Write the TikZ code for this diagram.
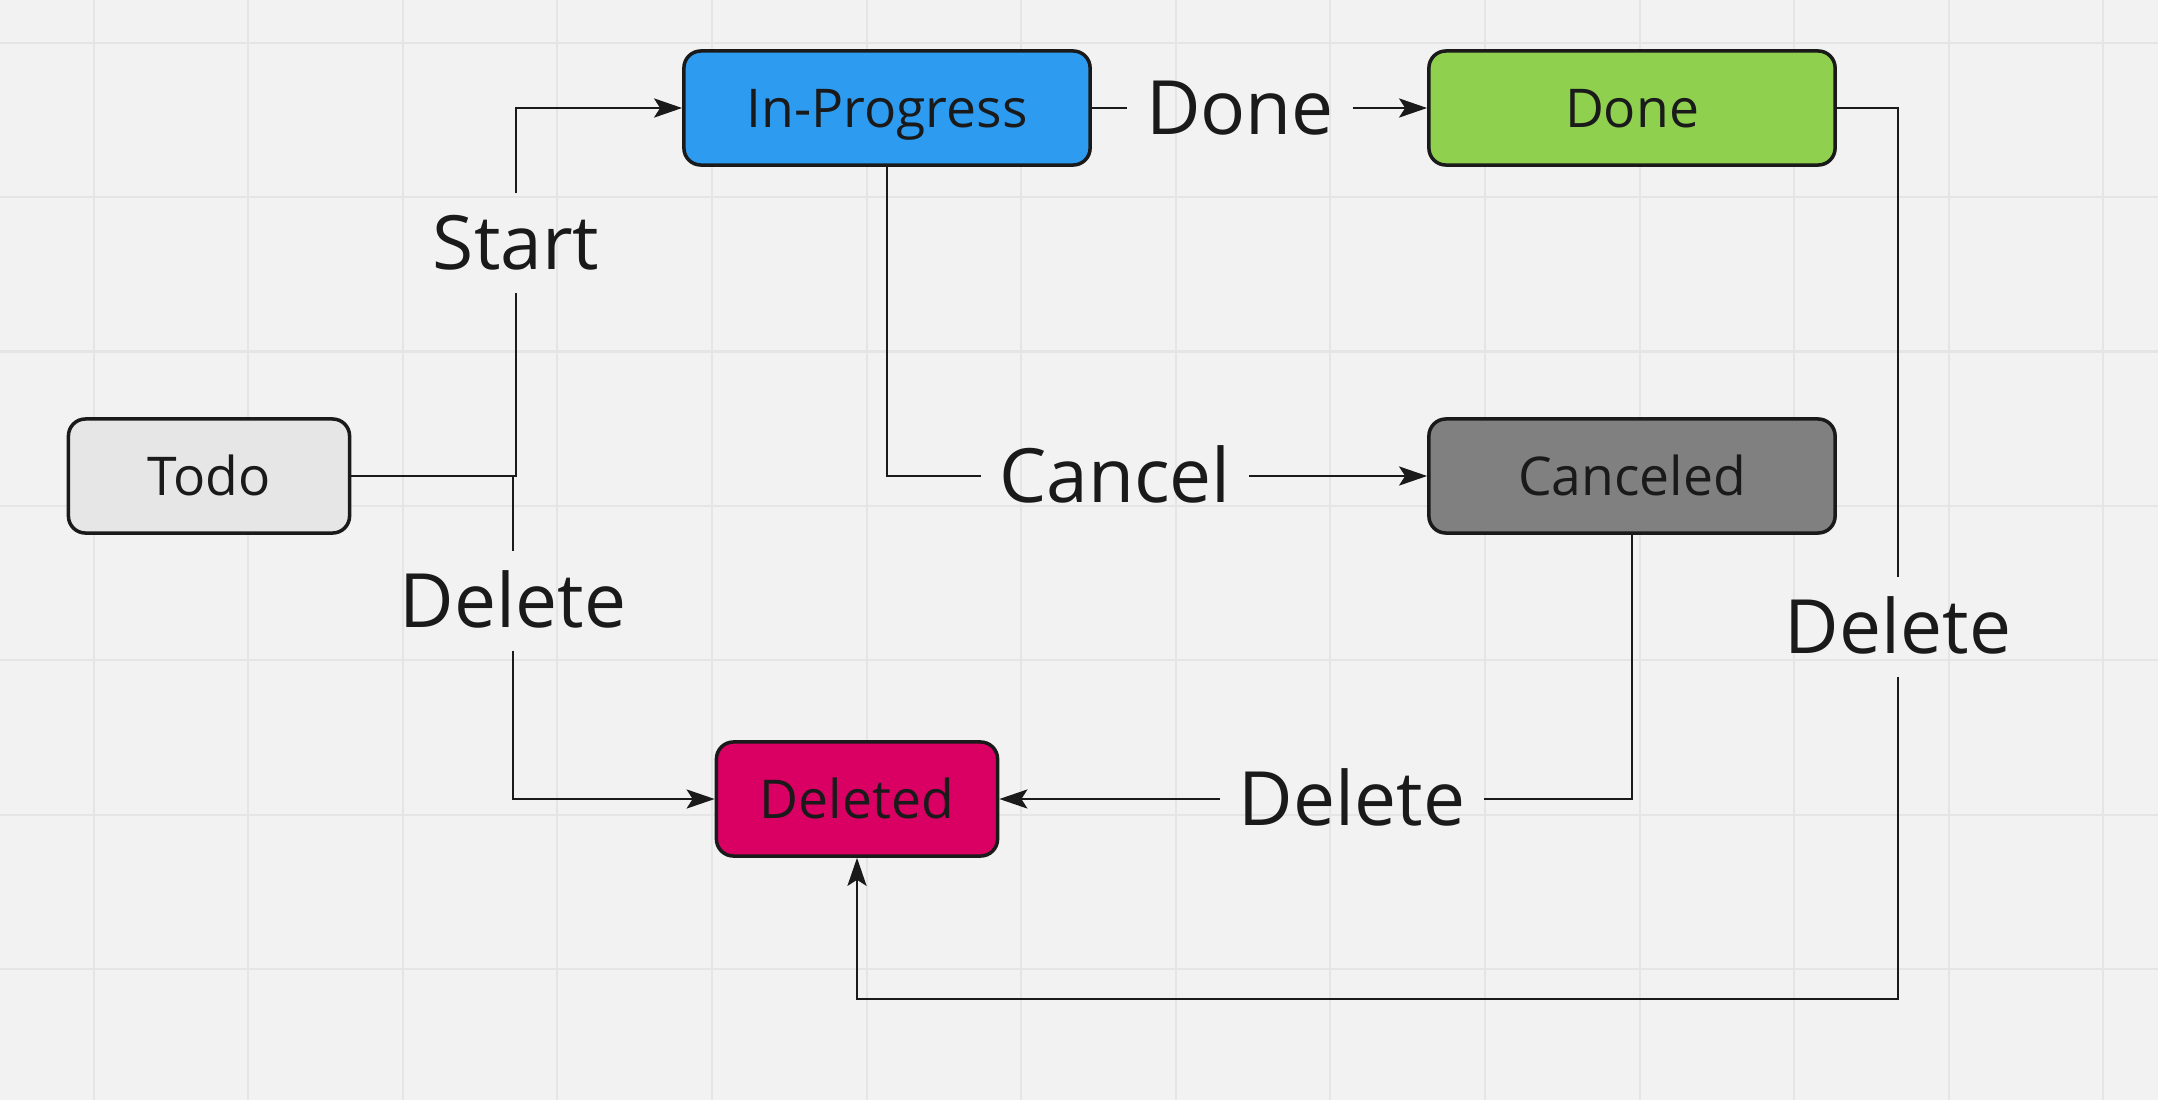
\documentclass[tikz,border=0pt]{standalone}
\usepackage{fontspec}
\setmainfont{Open Sans}
\usetikzlibrary{arrows.meta}

\definecolor{bg}{HTML}{F2F2F2}
\definecolor{gridline}{HTML}{E5E5E5}
\definecolor{ink}{HTML}{1A1A1A}
\definecolor{todofill}{HTML}{E6E6E6}
\definecolor{progfill}{HTML}{2D9BF0}
\definecolor{donefill}{HTML}{8FD14F}
\definecolor{cancelfill}{HTML}{808080}
\definecolor{delfill}{HTML}{DA0063}

\begin{document}
\begin{tikzpicture}[x=0.01cm, y=-0.01cm,
	state/.style = {rectangle, rounded corners=0.17cm, draw=ink, line width=1pt,
		minimum height=1.14cm, text=ink, text height=10.9pt, text depth=0pt,
		font=\fontsize{15.2}{18}\selectfont},
	link/.style = {draw=ink, line width=0.8pt},
	trans/.style = {link, -{Stealth[length=2.8mm, width=1.9mm, inset=0.6mm]}},
	lbl/.style = {text=ink, inner xsep=1.8mm, inner ysep=2.2mm,
		text height=15.3pt, text depth=0pt,
		font=\fontsize{21.3}{26}\selectfont}]

\fill[bg] (0,0) rectangle (2158,1100);
\useasboundingbox (0,0) rectangle (2158,1100);
\foreach \gx in {0,...,13}
	\draw[gridline, line width=0.6pt] (93.6+154.6*\gx,0) -- (93.6+154.6*\gx,1100);
\foreach \gy in {0,...,6}
	\draw[gridline, line width=0.6pt] (0,42.7+154.4*\gy) -- (2158,42.7+154.4*\gy);

\node[state, fill=todofill,
	minimum width = 2.81cm] (todo) at (209,476) {Todo};
\node[state, fill=progfill,
	minimum width = 4.06cm] (prog) at (887,108) {In-Progress};
\node[state, fill=donefill,
	minimum width = 4.06cm] (done) at (1632,108) {Done};
\node[state, fill=cancelfill,
	minimum width = 4.06cm] (canceled) at (1632,476) {Canceled};
\node[state, fill=delfill,
	minimum width = 2.81cm] (deleted) at (857,799) {Deleted};

\node[lbl] (start) at (516,243) {Start};
\node[lbl] (deltodo) at (513,601) {Delete};
\node[lbl] (finish) at (1240,108) {Done};
\node[lbl] (cancel) at (1115,476) {Cancel};
\node[lbl] (delcanc) at (1352,799) {Delete};
\node[lbl] (deldone) at (1898,627) {Delete};
\coordinate (bottom) at (857,999);

\draw[link] (todo.east) -| (start.south);
\draw[trans] (start.north) |- (prog.west);
\draw[link] (todo.east) -| (deltodo.north);
\draw[trans] (deltodo.south) |- (deleted.west);
\draw[link] (prog.east) -- (finish.west);
\draw[trans] (finish.east) -- (done.west);
\draw[link] (prog.south) |- (cancel.west);
\draw[trans] (cancel.east) -- (canceled.west);
\draw[link] (canceled.south) |- (delcanc.east);
\draw[trans] (delcanc.west) -- (deleted.east);
\draw[link] (done.east) -| (deldone.north);
\draw[trans] (deldone.south) |- (bottom) -- (deleted.south);
\end{tikzpicture}
\end{document}
